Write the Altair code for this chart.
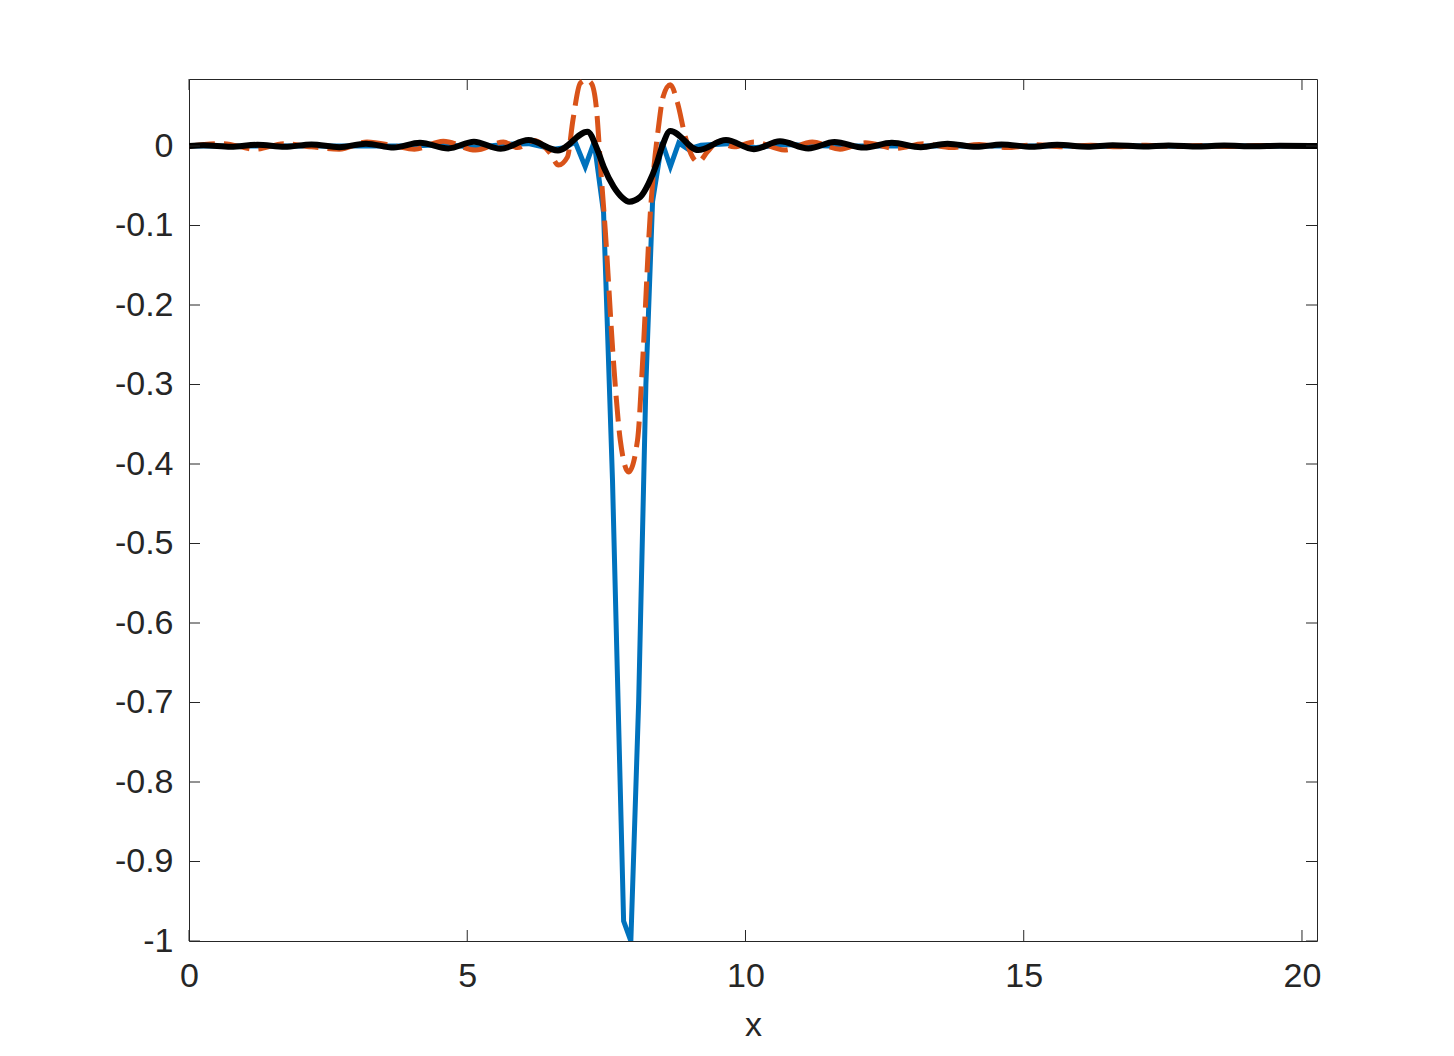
import altair as alt
import pandas as pd

# ---- data ----
blue_x = [0.0, 4.0, 4.6, 5.15, 5.65, 6.1, 6.55, 6.75, 6.94, 7.12, 7.28, 7.45, 7.61, 7.81, 7.94,
          8.08, 8.21, 8.33, 8.5, 8.65, 8.8, 8.97, 9.2, 9.7, 10.2, 10.7, 11.5, 20.27]
blue_y = [0.0, 0.0, 0.002, -0.002, 0.002, 0.003, -0.004, -0.002, 0.005, -0.026, 0.005, -0.084, -0.42, -0.975, -1.0,
          -0.70, -0.30, -0.07, 0.005, -0.026, 0.004, -0.004, 0.001, 0.003, -0.002, 0.002, 0.0, 0.0]

orange_x = [0.0, 0.6, 1.2, 1.7, 2.2, 2.7, 3.2, 3.7, 4.05, 4.57, 5.15, 5.65, 5.9, 6.2, 6.49, 6.64, 6.8, 6.9,
            7.03, 7.14, 7.23, 7.32, 7.40, 7.48, 7.63, 7.75, 7.9, 8.06, 8.15, 8.29, 8.35, 8.43, 8.52, 8.65,
            8.78, 8.92, 9.05, 9.15, 9.32, 9.5, 9.8, 10.15, 10.7, 11.2, 11.7, 12.15, 12.7, 13.2, 13.7, 14.2,
            14.7, 15.2, 15.7, 16.2, 16.7, 17.2, 17.7, 18.2, 18.7, 19.2, 20.27]
orange_y = [0.0, 0.003, -0.004, 0.003, -0.001, -0.004, 0.005, 0.0, -0.004, 0.006, -0.005, 0.005, -0.002, 0.007,
            -0.009, -0.024, -0.014, 0.033, 0.079, 0.083, 0.079, 0.048, -0.030, -0.106, -0.273, -0.37, -0.41,
            -0.37, -0.273, -0.084, -0.03, 0.02, 0.062, 0.077, 0.054, 0.011, -0.014, -0.020, -0.007, 0.005,
            -0.001, 0.005, -0.005, 0.005, -0.004, 0.004, -0.003, 0.003, -0.002, 0.002, -0.002, 0.0015, -0.001,
            0.001, -0.001, 0.001, -0.0005, 0.0005, -0.0005, 0.0005, 0.0]

black_x = [0.0, 0.26, 0.75, 1.23, 1.72, 2.2, 2.7, 3.18, 3.68, 4.15, 4.66, 5.12, 5.6, 6.1, 6.63, 7.16, 7.34,
           7.45, 7.63, 7.79, 7.91, 8.11, 8.26, 8.41, 8.5, 8.65, 9.15, 9.65, 10.15, 10.62, 11.13, 11.6, 12.13,
           12.63, 13.15, 13.63, 14.15, 14.6, 15.15, 15.6, 16.15, 16.6, 17.15, 17.6, 18.15, 18.6, 19.15, 19.6, 20.27]
black_y = [0.0, 0.001, -0.001, 0.0015, -0.001, 0.002, -0.0015, 0.003, -0.002, 0.004, -0.003, 0.0055, -0.0035,
           0.0075, -0.0055, 0.018, -0.005, -0.026, -0.051, -0.065, -0.070, -0.064, -0.047, -0.021, -0.001, 0.019,
           -0.005, 0.0075, -0.004, 0.006, -0.003, 0.005, -0.002, 0.004, -0.0015, 0.003, -0.001, 0.002, -0.001,
           0.0015, -0.0008, 0.001, -0.0005, 0.0008, -0.0005, 0.0005, -0.0003, 0.0003, 0.0]

x_ticks = [0, 5, 10, 15, 20]
y_ticks = [-1.0, -0.9, -0.8, -0.7, -0.6, -0.5, -0.4, -0.3, -0.2, -0.1, 0.0]
x_domain = [0, 20.27]
y_domain = [-1.0, 0.0843]

W, H = 1128, 862
TICK = 11
AXC = "#262626"
FONT = "Liberation Sans"
FS = 34

blue_df = pd.DataFrame({"x": blue_x, "y": blue_y})
orange_df = pd.DataFrame({"x": orange_x, "y": orange_y})
black_df = pd.DataFrame({"x": black_x, "y": black_y})
xt_df = pd.DataFrame({"v": x_ticks})
yt_df = pd.DataFrame({"v": y_ticks})

xs = alt.Scale(domain=x_domain, nice=False, zero=False)
ys = alt.Scale(domain=y_domain, nice=False, zero=False)

x_axis = alt.Axis(values=x_ticks, format="d", ticks=False, domain=False, grid=False, labelFontSize=FS,
                  labelColor=AXC, labelFont=FONT, labelPadding=18, title="x", titleFont=FONT,
                  titleFontSize=FS, titleFontWeight="normal", titleColor=AXC, titlePadding=15,
                  labelFlush=False)
y_axis = alt.Axis(values=y_ticks, ticks=False, domain=False, grid=False, labelFontSize=FS,
                  labelColor=AXC, labelFont=FONT, labelPadding=16, title=None,
                  labelExpr="replace(format(datum.value, '.1~f'), '\u2212', '-')")

blue = alt.Chart(blue_df).mark_line(color="#0072BD", strokeWidth=5, clip=True).encode(
    x=alt.X("x:Q", scale=xs, axis=x_axis),
    y=alt.Y("y:Q", scale=ys, axis=y_axis),
    order="x:Q",
)
orange = alt.Chart(orange_df).mark_line(color="#D95319", strokeWidth=5, strokeDash=[26, 9],
                                        interpolate="monotone", clip=True).encode(
    x=alt.X("x:Q", scale=xs), y=alt.Y("y:Q", scale=ys), order="x:Q"
)
black = alt.Chart(black_df).mark_line(color="#000000", strokeWidth=6, interpolate="monotone",
                                      clip=True).encode(
    x=alt.X("x:Q", scale=xs), y=alt.Y("y:Q", scale=ys), order="x:Q"
)

tick_bottom = alt.Chart(xt_df).mark_rule(color=AXC, strokeWidth=1).encode(
    x=alt.X("v:Q", scale=xs), y=alt.value(H), y2=alt.value(H - TICK))
tick_top = alt.Chart(xt_df).mark_rule(color=AXC, strokeWidth=1).encode(
    x=alt.X("v:Q", scale=xs), y=alt.value(0), y2=alt.value(TICK))
tick_left = alt.Chart(yt_df).mark_rule(color=AXC, strokeWidth=1).encode(
    y=alt.Y("v:Q", scale=ys), x=alt.value(0), x2=alt.value(TICK))
tick_right = alt.Chart(yt_df).mark_rule(color=AXC, strokeWidth=1).encode(
    y=alt.Y("v:Q", scale=ys), x=alt.value(W), x2=alt.value(W - TICK))

chart = alt.layer(blue, orange, black, tick_bottom, tick_top, tick_left, tick_right).properties(
    width=W, height=H,
    autosize=alt.AutoSizeParams(type="none"),
    padding={"left": 181, "top": 71, "right": 125, "bottom": 105},
    background="white",
).configure_view(stroke=AXC, strokeWidth=1)

chart.save("out.html", embed_options={"renderer": "svg", "actions": False})
